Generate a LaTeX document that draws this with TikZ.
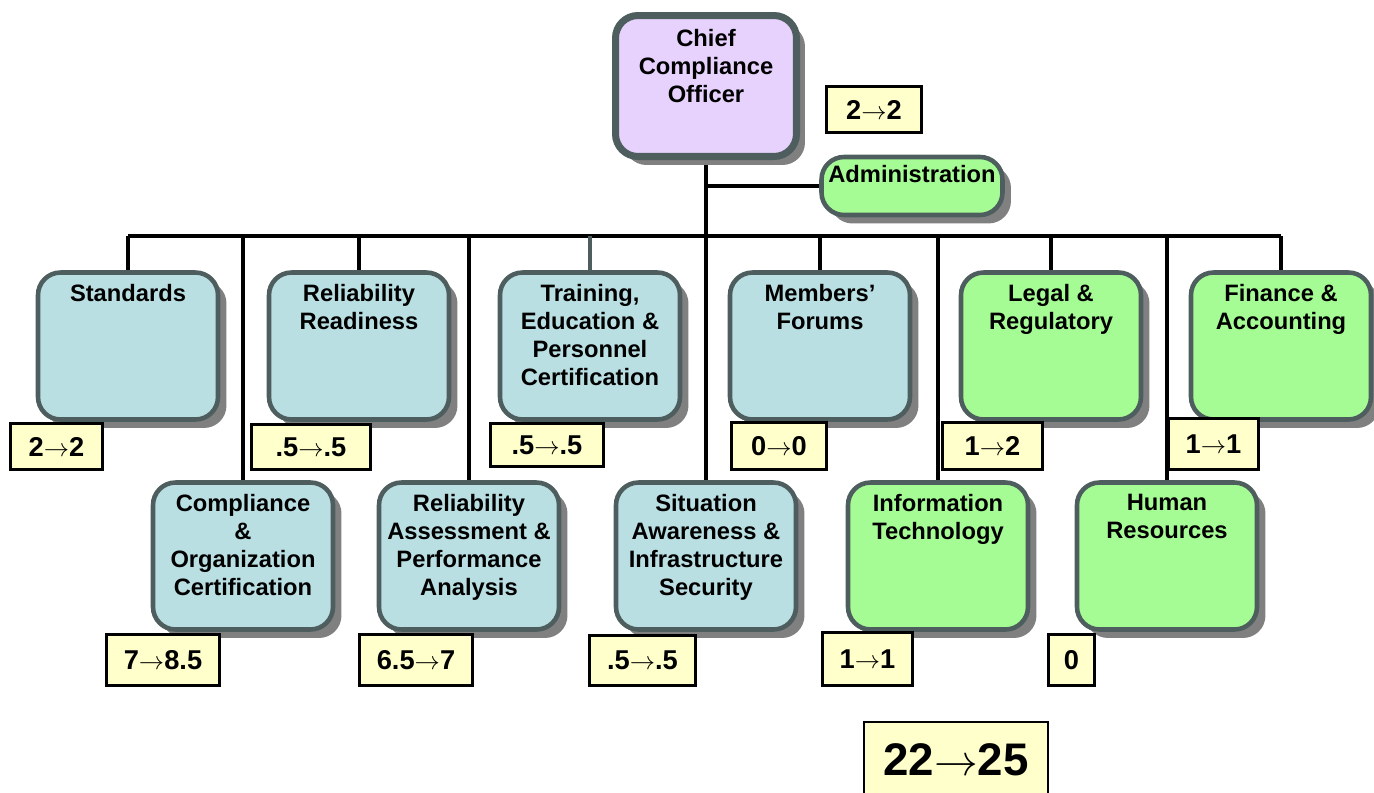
\documentclass[tikz,border=0pt]{standalone}
\usepackage{fontspec}
\setmainfont{Liberation Sans}
\usetikzlibrary{shadows,backgrounds}

\definecolor{deptblue}{HTML}{B9DFE3}
\definecolor{deptgreen}{HTML}{A6FC94}
\definecolor{deptpurple}{HTML}{E6D2FC}
\definecolor{countyellow}{HTML}{FFFFCC}
\definecolor{slate}{HTML}{4E5E5E}
\definecolor{shade}{HTML}{808080}

\begin{document}
\begin{tikzpicture}[x=0.02cm,y=-0.02cm,font=\bfseries\fontsize{13.5}{15.9}\selectfont]
  \tikzset{dept/.style={draw=slate,line width=2.6pt,rounded corners=0.45cm,minimum width=3.6cm,minimum height=2.94cm,
                        drop shadow={shadow xshift=0.17cm,shadow yshift=-0.17cm,fill=shade,opacity=1}},
           bluedept/.style={dept,fill=deptblue},
           greendept/.style={dept,fill=deptgreen},
           depttext/.style={anchor=north,align=center,inner sep=0pt,yshift=-0.28cm},
           headcount/.style={draw,fill=countyellow,line width=1.3pt,inner sep=0pt,font=\bfseries\fontsize{15.5}{18}\selectfont},
           link/.style={line width=2.1pt}}
  \useasboundingbox (0,0) rectangle (1374,792);
  \coordinate (bus) at (0,236);

  \node[dept,fill=deptpurple,line width=4pt,minimum width=3.62cm,minimum height=2.82cm] (cco) at (706,86) {};
  \node[depttext,yshift=-0.06cm] (ccot) at (cco.north) {Chief\\Compliance\\Officer};
  \node[greendept,minimum width=3.62cm,minimum height=1.16cm] (adm) at (912,186) {};
  \node[depttext,yshift=0.08cm] (admt) at (adm.north) {Administration};

  \node[bluedept]  (std) at (128,346)  {};
  \node[depttext]  (stdt) at (std.north) {Standards};
  \node[bluedept]  (rr)  at (359,346)  {};
  \node[depttext]  (rrt) at (rr.north) {Reliability\\Readiness};
  \node[bluedept]  (trn) at (590,346)  {};
  \node[depttext]  (trnt) at (trn.north) {Training,\\Education \&\\Personnel\\Certification};
  \node[bluedept]  (mem) at (820,346)  {};
  \node[depttext]  (memt) at (mem.north) {Members’\\Forums};
  \node[greendept] (leg) at (1051,346) {};
  \node[depttext]  (legt) at (leg.north) {Legal \&\\Regulatory};
  \node[greendept] (fin) at (1281,346) {};
  \node[depttext]  (fint) at (fin.north) {Finance \&\\Accounting};

  \node[bluedept]  (com) at (243,556)  {};
  \node[depttext]  (comt) at (com.north) {Compliance\\\&\\Organization\\Certification};
  \node[bluedept]  (rap) at (469,556)  {};
  \node[depttext]  (rapt) at (rap.north) {Reliability\\Assessment \&\\Performance\\Analysis};
  \node[bluedept]  (sit) at (706,556)  {};
  \node[depttext]  (sitt) at (sit.north) {Situation\\Awareness \&\\Infrastructure\\Security};
  \node[greendept] (it)  at (938,556)  {};
  \node[depttext]  (itt) at (it.north) {Information\\Technology};
  \node[greendept] (hr)  at (1167,556) {};
  \node[depttext]  (hrt) at (hr.north) {Human\\Resources};

  \node[headcount,minimum width=1.9cm,minimum height=0.92cm]  (ccov) at (874,109.5)  {2$\rightarrow$2};
  \node[headcount,minimum width=1.84cm,minimum height=0.92cm] (stdv) at (56.5,446.5) {2$\rightarrow$2};
  \node[headcount,minimum width=2.38cm,minimum height=0.9cm]  (rrv)  at (311,447)    {.5$\rightarrow$.5};
  \node[headcount,minimum width=2.26cm,minimum height=0.86cm] (trnv) at (547,445)    {.5$\rightarrow$.5};
  \node[headcount,minimum width=1.9cm,minimum height=0.94cm]  (memv) at (779,446)    {0$\rightarrow$0};
  \node[headcount,minimum width=2.0cm,minimum height=0.94cm]  (legv) at (992.5,446)  {1$\rightarrow$2};
  \node[headcount,minimum width=1.8cm,minimum height=1.02cm]  (finv) at (1213.5,444) {1$\rightarrow$1};
  \node[headcount,minimum width=2.26cm,minimum height=1.02cm] (comv) at (163,660)    {7$\rightarrow$8.5};
  \node[headcount,minimum width=2.26cm,minimum height=1.02cm] (rapv) at (416,660)    {6.5$\rightarrow$7};
  \node[headcount,minimum width=2.12cm,minimum height=1.0cm]  (sitv) at (642.5,660.5) {.5$\rightarrow$.5};
  \node[headcount,minimum width=1.8cm,minimum height=1.06cm]  (itv)  at (867.5,659)  {1$\rightarrow$1};
  \node[headcount,minimum width=0.92cm,minimum height=1.02cm] (hrv)  at (1071.5,660) {0};
  \node[headcount,anchor=north,minimum width=3.68cm,minimum height=1.5cm,
        font=\bfseries\fontsize{26}{30}\selectfont] (total) at (956,721) {22$\rightarrow$25};

  \begin{pgfonlayer}{background}
    \draw[link] (cco.south) -- (sit.north);
    \draw[link] (cco.south |- adm.west) -- (adm.west);
    \draw[link] (std.north |- bus) -- (fin.north |- bus);
    \foreach \d in {std,rr,mem,leg,fin,com,rap,it,hr}
      \draw[link] (\d.north) -- (\d.north |- bus);
    \draw[link,slate] (trn.north) -- (trn.north |- bus);
  \end{pgfonlayer}
\end{tikzpicture}
\end{document}
